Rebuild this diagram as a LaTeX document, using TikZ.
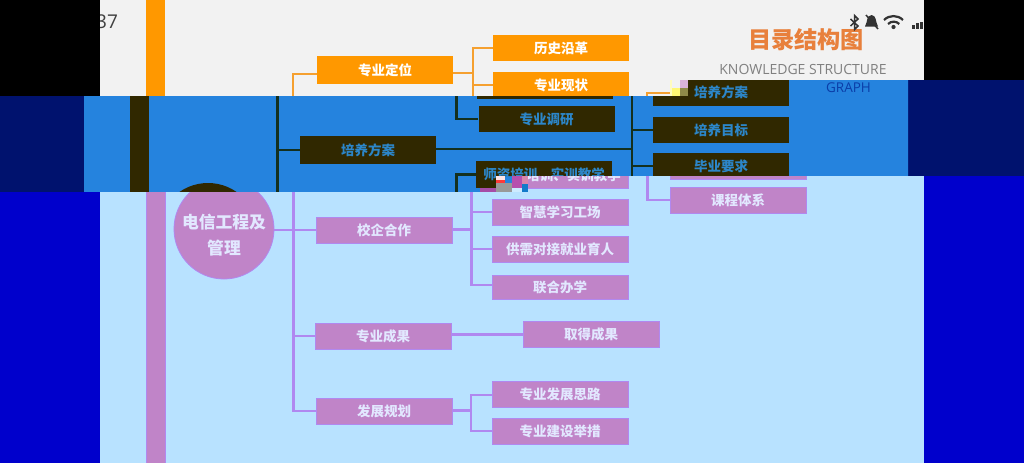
\documentclass[tikz,border=0pt]{standalone}
\usepackage{fontspec}
\setmainfont{Noto Sans CJK SC}
\newfontfamily\latinfont{Open Sans}
\usetikzlibrary{positioning}

\definecolor{pagegray}{HTML}{F2F2F2}
\definecolor{bandblue}{HTML}{2583DE}
\definecolor{bandnavy}{HTML}{00126E}
\definecolor{darkbox}{HTML}{302800}
\definecolor{darkline}{HTML}{14301E}
\definecolor{darktext}{HTML}{2C86C8}
\definecolor{skyblue}{HTML}{B8E2FF}
\definecolor{edgeblue}{HTML}{0000CC}
\definecolor{orangebox}{HTML}{FF9800}
\definecolor{orangeline}{HTML}{F5A030}
\definecolor{purplebox}{HTML}{C084C8}
\definecolor{purpleline}{HTML}{B088F0}
\definecolor{purpletext}{HTML}{E2E8FF}
\definecolor{titleorange}{HTML}{E8803C}
\definecolor{graphblue}{HTML}{0B3DA8}

\begin{document}
\begin{tikzpicture}[x=1pt,y=-1pt]
\tikzstyle{cell}=[rectangle,minimum width=136pt,minimum height=26pt,inner sep=0pt,font=\fontsize{13.5}{14}\selectfont\bfseries]
\tikzstyle{orangecell}=[cell,fill=orangebox,text=white]
\tikzstyle{darkcell}=[cell,fill=darkbox,text=darktext]
\tikzstyle{purplecell}=[cell,fill=purplebox,draw=purpleline,line width=0.8pt,text=purpletext]
\tikzstyle{orangelink}=[draw=orangeline,line width=2.4pt]
\tikzstyle{darklink}=[draw=darkline,line width=2.4pt]
\tikzstyle{purplelink}=[draw=purpleline,line width=2.4pt]
\useasboundingbox (0,0) rectangle (1024,463);

% top part
\fill[pagegray] (100,0) rectangle (924,96);
\fill[orangebox] (146,0) rectangle (165,96);
\node[anchor=west,inner sep=0pt,text=black!75,font=\latinfont\fontsize{19}{20}\selectfont] (clock) at (96,22) {37};
\fill[black] (0,0) rectangle (100,96);
\fill[black] (924,0) rectangle (1024,80);

\node[orangecell,minimum height=28pt] (posnode) at (385,70) {专业定位};
\node[orangecell] (history) at (561,48) {历史沿革};
\node[orangecell] (status) at (561,85) {专业现状};
\coordinate (topleft) at (293,96);
\coordinate (topright) at (473,96);
\coordinate (topjoin) at (473,73);
\draw[orangelink] (posnode.west |- 0,74) -| (topleft);
\draw[orangelink] (posnode.east |- topjoin) -- (topjoin);
\draw[orangelink] (history.west) -| (topright);
\draw[orangelink] (status.west) -- (topright |- status.west);
\coordinate (planlink) at (647,96);
\draw[orangelink] (670,93) -| (planlink);
\fill[yellow!55] (672,88) rectangle (680,96);
\fill[yellow!25] (670,80) rectangle (672,96);
\fill[white!70!violet] (680,80) rectangle (688,88);
\fill[black!50!yellow] (680,88) rectangle (688,96);

% title
\node[text=titleorange,font=\fontsize{23.2}{24}\selectfont\bfseries] (title) at (806,40) {目录结构图};
\node[text=black!50,font=\latinfont\fontsize{14}{15}\selectfont] (subtitle) at (803,69) {KNOWLEDGE STRUCTURE};

% status icons
\draw[black!80,line width=1.5pt] (850.5,19) -- (858,26) -- (854.5,29.5) -- (854.5,15.5) -- (858,19) -- (850.5,26);
\fill[black!80] (871.5,15) .. controls (866,16) and (868,21) .. (865,26.5) -- (878,26.5) .. controls (875,21) and (877,16) .. (871.5,15) -- cycle;
\draw[black!80,line width=1.5pt] (866,15) -- (878,29);
\draw[black!80,line width=2.2pt] (884,20) arc (225:315:13.4);
\draw[black!80,line width=2.2pt] (888,24) arc (225:315:8);
\fill[black!80] (893.5,27) circle (2.1);
\fill[black!80] (912,25) rectangle (914.5,29);
\fill[black!80] (916,23) rectangle (918.5,29);
\fill[black!80] (920,21.5) rectangle (922.5,29);

% middle band
\fill[bandnavy] (0,96) rectangle (84,192);
\fill[bandnavy] (908,80) rectangle (1024,176);
\fill[bandblue] (84,96) -- (688,96) -- (688,80) -- (908,80) -- (908,176) -- (528,176) -- (528,192) -- (84,192) -- cycle;
\begin{scope}
\clip (84,96) -- (688,96) -- (688,80) -- (908,80) -- (908,176) -- (528,176) -- (496,176) -- (496,192) -- (84,192) -- cycle;
\fill[darkbox] (130,96) rectangle (149,192);
\node[circle,fill=darkbox,minimum size=100pt,inner sep=0pt] (hubdark) at (208,233) {};
\node[darkcell] (statusdark) at (545,86) {};
\node[darkcell] (survey) at (546.5,119) {专业调研};
\node[darkcell,minimum height=28pt] (plan) at (368,150) {培养方案};
\node[darkcell,minimum height=27pt] (teacherdark) at (544,174.5) {师资培训、实训教学};
\node[darkcell,minimum height=27pt] (scheme) at (721,92.5) {培养方案};
\node[darkcell] (aim) at (721,130) {培养目标};
\node[darkcell] (grad) at (721,166) {毕业要求};
\coordinate (bandleft) at (277.5,96);
\coordinate (bandleftb) at (277.5,192);
\coordinate (surveytop) at (456.5,96);
\coordinate (bandright) at (632,96);
\coordinate (bandrightb) at (632,176);
\coordinate (teacherb) at (456.5,192);
\draw[darklink] (bandleft) -- (bandleftb);
\draw[darklink] (bandleft |- plan.west) -- (plan.west);
\draw[darklink] (surveytop) |- (survey.west);
\draw[darklink] (plan.east |- 0,149) -- (bandright |- 0,149);
\draw[darklink] (bandright) -- (bandrightb);
\draw[darklink] (bandright |- aim.west) -- (aim.west);
\draw[darklink] (bandright |- grad.west) -- (grad.west);
\draw[darklink] (teacherb) |- (teacherdark.west);
\end{scope}
\node[anchor=center,inner sep=0pt,text=graphblue,font=\latinfont\fontsize{13.5}{14}\selectfont] (graph) at (848.5,88) {GRAPH};

% lower part
\fill[edgeblue] (0,192) rectangle (100,463);
\fill[edgeblue] (924,176) rectangle (1024,463);
\fill[skyblue] (100,192) rectangle (924,463);
\fill[skyblue] (528,176) rectangle (924,192);
\fill[purplebox] (146,192) rectangle (165,463);
\draw[purpleline,line width=0.8pt] (146,192) -- (146,463);
\draw[purpleline,line width=0.8pt] (165,192) -- (165,463);

% the scraps at the seam
\fill[violet!70!white] (480,188) rectangle (496,192);
\fill[white!60!pink] (496,176) rectangle (505,180);
\fill[red!70!pink] (496,180) rectangle (505,183);
\fill[black!40] (496,183) rectangle (512,192);
\fill[magenta!60!blue!70] (512,176) rectangle (522,188);
\fill[pink!70!violet] (522,176) rectangle (528,184);
\fill[cyan!60!blue] (522,184) rectangle (528,192);
\fill[skyblue!70!white] (512,188) rectangle (522,192);

\begin{scope}
\clip (100,192) rectangle (924,463) (528,176) rectangle (924,192);
\node[purplecell] (teacher) at (560,175) {师资培训、实训教学};
\node[purplecell] (gradlow) at (738,166) {};
\node[purplecell] (course) at (738,200) {课程体系};
\coordinate (courselink) at (647.5,176);
\draw[purplelink] (courselink) |- (course.west);
\node[circle,fill=purplebox,draw=purpleline,line width=0.8pt,minimum size=100pt,inner sep=0pt,align=center,text=purpletext,font=\fontsize{16.8}{26}\selectfont\bfseries] (hub) at (224,229) {\rule{0pt}{27pt}电信工程及\\管理};
\end{scope}

\node[purplecell] (campus) at (384,230) {校企合作};
\node[purplecell] (work) at (560,212) {智慧学习工场};
\node[purplecell] (supply) at (560,249) {供需对接就业育人};
\node[purplecell,minimum height=24pt] (joint) at (560,287) {联合办学};
\node[purplecell] (result) at (383,336) {专业成果};
\node[purplecell] (gain) at (591,334) {取得成果};
\node[purplecell] (future) at (384,411) {发展规划};
\node[purplecell] (idea) at (560,394) {专业发展思路};
\node[purplecell] (step1) at (560,431) {专业建设举措};

\coordinate (mainlink) at (293.5,192);
\coordinate (campuslink) at (471.5,192);
\draw[purplelink] (hub.east |- campus.west) -- (campus.west);
\draw[purplelink] (mainlink) |- (future.west);
\draw[purplelink] (mainlink |- result.west) -- (result.west);
\draw[purplelink] (campus.east |- 0,229.5) -- (campuslink |- 0,229.5);
\draw[purplelink] (campuslink) |- (joint.west |- 0,285);
\draw[purplelink] (campuslink |- work.west) -- (work.west);
\draw[purplelink] (campuslink |- supply.west) -- (supply.west);
\draw[purplelink] (result.east |- 0,334.5) -- (gain.west |- 0,334.5);
\draw[purplelink] (future.east |- 0,410.5) -- (471,410.5);
\draw[purplelink] (idea.west |- 0,395) -| (471,431) -- (step1.west);

\end{tikzpicture}
\end{document}
